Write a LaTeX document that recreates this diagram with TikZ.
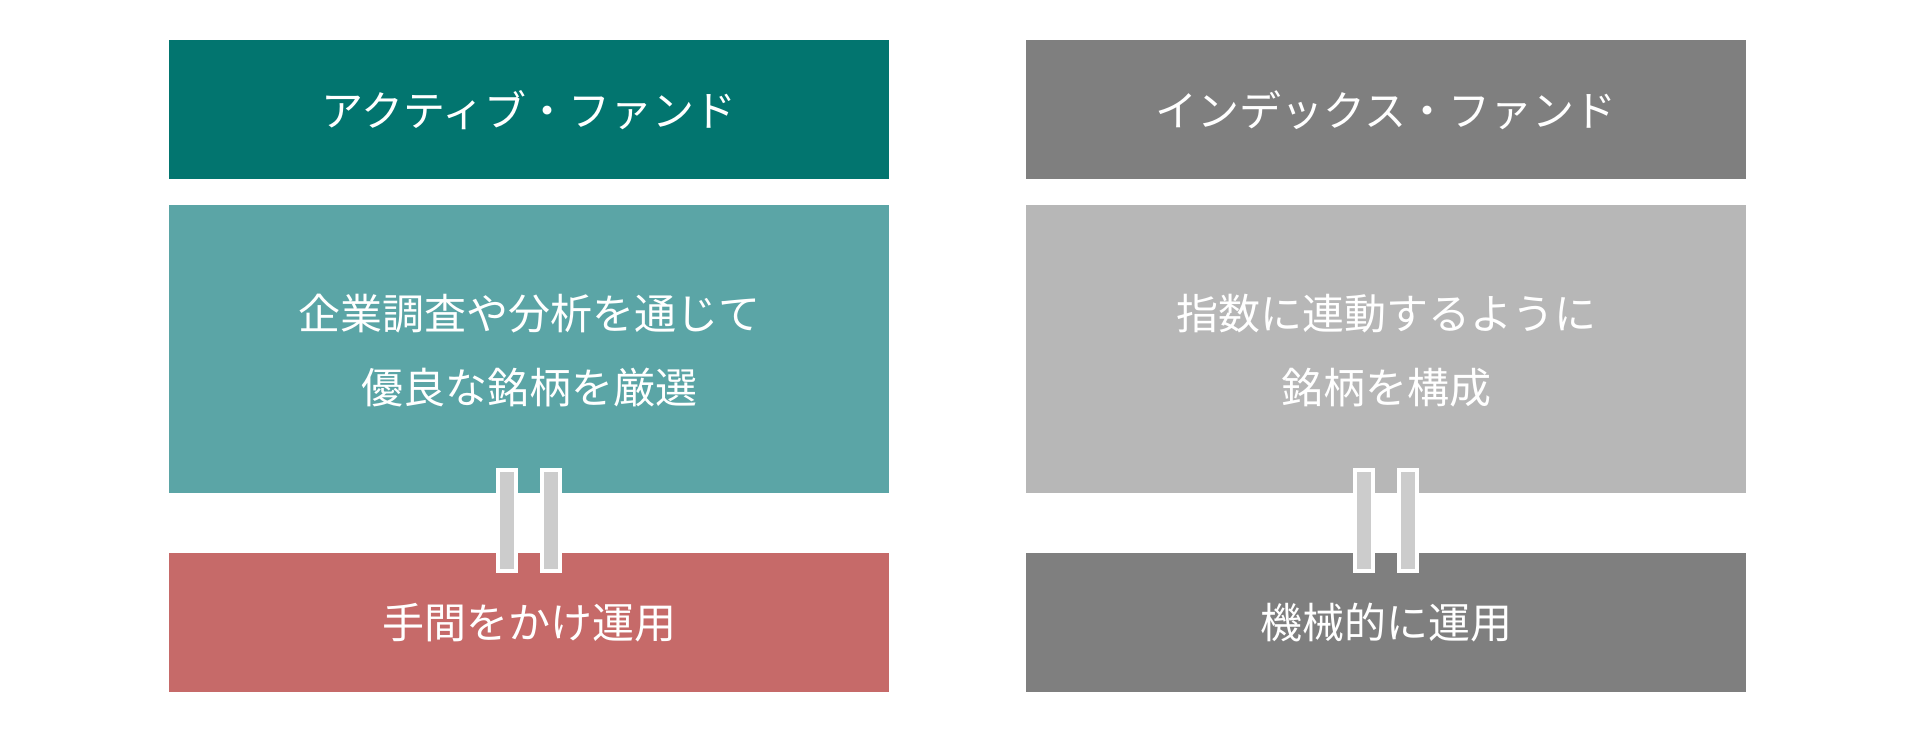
\documentclass[tikz,border=0pt]{standalone}
\usepackage{fontspec}
\setmainfont{Noto Sans CJK JP}
\definecolor{dteal}{HTML}{02756F}
\definecolor{lteal}{HTML}{5BA5A6}
\definecolor{dgray}{HTML}{7F7F7F}
\definecolor{lgray}{HTML}{B7B7B7}
\definecolor{rred}{HTML}{C66A69}
\definecolor{bar}{HTML}{CCCCCC}
\begin{document}
\begin{tikzpicture}[x=1pt,y=-1pt,
 box/.style={inner sep=0pt,outer sep=0pt,text=white,font=\fontsize{42}{74}\selectfont,align=center,minimum width=720pt},
 eqbar/.style={fill=bar,draw=white,line width=4pt}]
\useasboundingbox (0,0) rectangle (1916,732);
\fill[dteal] (169,40) rectangle (889,179);
\fill[lteal] (169,205) rectangle (889,493);
\fill[rred] (169,553) rectangle (889,692);
\fill[dgray] (1026,40) rectangle (1746,179);
\fill[lgray] (1026,205) rectangle (1746,493);
\fill[dgray] (1026,553) rectangle (1746,692);
\node[box] (a1) at (529,110) {アクティブ・ファンド};
\node[box] (a2) at (529,351) {企業調査や分析を通じて\\優良な銘柄を厳選};
\node[box] (a3) at (529,623) {手間をかけ運用};
\node[box] (b1) at (1386,110) {インデックス・ファンド};
\node[box] (b2) at (1386,351) {指数に連動するように\\銘柄を構成};
\node[box] (b3) at (1386,623) {機械的に運用};
\foreach \c in {529,1386}{
 \draw[eqbar] (\c-31,470) rectangle (\c-13,571);
 \draw[eqbar] (\c+13,470) rectangle (\c+31,571);
}
\end{tikzpicture}
\end{document}
